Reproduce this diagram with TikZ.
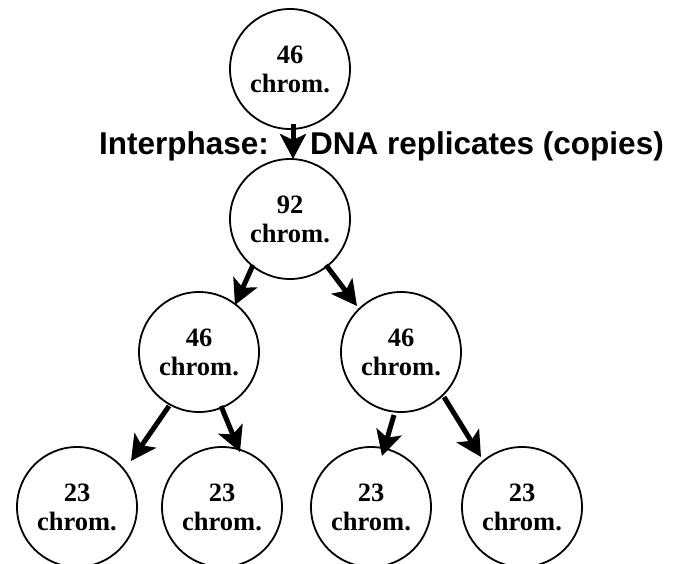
\documentclass[tikz,border=0pt]{standalone}
\usepackage{fontspec}
\setmainfont{Liberation Serif}
\newfontfamily\labelfont{Liberation Sans}
\usetikzlibrary{arrows.meta}
\begin{document}
\begin{tikzpicture}[x=1pt,y=-1pt,
  chromnode/.style={circle,draw,line width=1.8pt,minimum size=120pt,inner sep=0pt,
    align=center,font=\fontsize{26.5}{29}\selectfont\bfseries},
  bigarrow/.style={line width=5pt,-{Stealth[length=25pt,width=26pt,inset=6pt]}},
  phaselabel/.style={font=\labelfont\fontsize{31.5}{34}\selectfont\bfseries,inner sep=0pt,anchor=base west}]
\useasboundingbox (0,0) rectangle (684,563);
\clip (0,0) rectangle (684,563);
\node[chromnode] (top) at (290,69) {46\\chrom.};
\node[chromnode] (n92) at (290,219) {92\\chrom.};
\node[chromnode] (ml) at (199,352) {46\\chrom.};
\node[chromnode] (mr) at (401,352) {46\\chrom.};
\node[chromnode] (b1) at (77,507) {23\\chrom.};
\node[chromnode] (b2) at (222,507) {23\\chrom.};
\node[chromnode] (b3) at (371,507) {23\\chrom.};
\node[chromnode] (b4) at (522,507) {23\\chrom.};
\node[phaselabel] (inter) at (99,154) {Interphase:};
\node[phaselabel] (dna) at (310,154) {DNA replicates (copies)};
\draw[bigarrow] ([shift={(3,55)}]top.center) -- ([shift={(3,-60)}]n92.center);
\draw[bigarrow] ([shift={(-37,46)}]n92.center) -- ([shift={(36,-47)}]ml.center);
\draw[bigarrow] ([shift={(36,46)}]n92.center) -- ([shift={(-44,-46)}]mr.center);
\draw[bigarrow] ([shift={(-30,54)}]ml.center) -- ([shift={(54,-46)}]b1.center);
\draw[bigarrow] ([shift={(22,54)}]ml.center) -- ([shift={(18,-55)}]b2.center);
\draw[bigarrow] ([shift={(-7,63)}]mr.center) -- ([shift={(11,-51)}]b3.center);
\draw[bigarrow] ([shift={(43,45)}]mr.center) -- ([shift={(-41,-50)}]b4.center);
\end{tikzpicture}
\end{document}
